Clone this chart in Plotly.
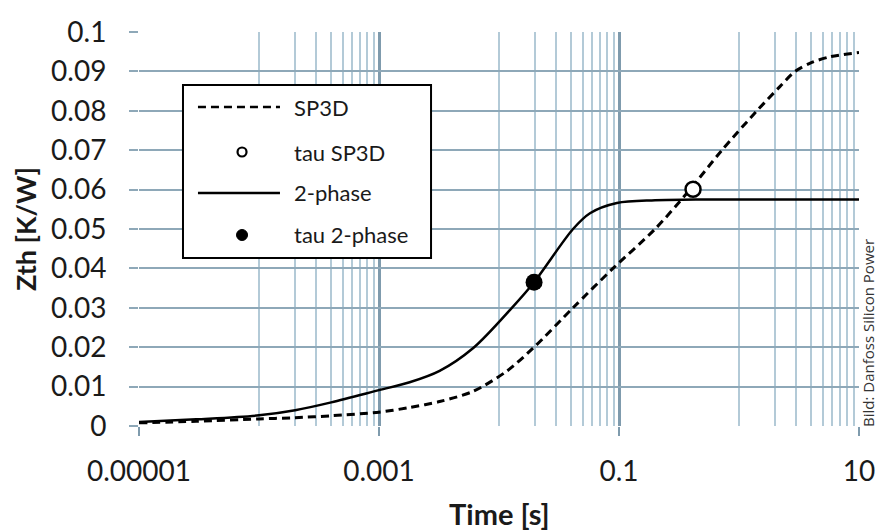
import plotly.graph_objects as go

# ---------------- data ----------------
t_sp3d = [1e-5, 3e-5, 1e-4, 2e-4, 4e-4, 1e-3, 1.8e-3, 3.2e-3, 6.1e-3, 0.0117, 0.0196, 0.0414,
          0.089, 0.2, 0.39, 0.72, 1.41, 2.2, 2.93, 4.0, 5.73, 10]
z_sp3d = [0.0008, 0.0012, 0.0018, 0.0021, 0.0026, 0.0035, 0.0047, 0.0062, 0.0088, 0.0140, 0.0200, 0.0300,
          0.0400, 0.0500, 0.0600, 0.0700, 0.0800, 0.0862, 0.0900, 0.0922, 0.0937, 0.0948]

t_2ph = [1e-5, 3e-5, 1e-4, 2e-4, 4e-4, 1e-3, 1.8e-3, 3.2e-3, 6.1e-3, 0.0128, 0.0196,
         0.0414, 0.0573, 0.096, 0.2, 0.5, 10]
z_2ph = [0.0010, 0.0017, 0.0027, 0.0040, 0.0060, 0.0091, 0.0111, 0.0140, 0.0198, 0.0300, 0.0365,
         0.0500, 0.0540, 0.0566, 0.0573, 0.0575, 0.0575]

tau_sp3d_t = [0.414]
tau_sp3d_z = [0.0601]
tau_2ph_t = [0.0196]
tau_2ph_z = [0.0365]

x_tickvals = [1e-5, 1e-3, 0.1, 10]
x_ticktext = ["0.00001", "0.001", "0.1", "10"]
y_tickvals = [0, 0.01, 0.02, 0.03, 0.04, 0.05, 0.06, 0.07, 0.08, 0.09, 0.1]
y_ticktext = ["0", "0.01", "0.02", "0.03", "0.04", "0.05", "0.06", "0.07", "0.08", "0.09", "0.1"]

legend_names = ["SP3D", "tau SP3D", "2-phase", "tau 2-phase"]

# minor vertical gridlines (Excel log base-100 style)
minor_vals = []
for e in [-4, -2, 0]:
    for k in range(1, 10):
        minor_vals.append(k * 10 ** e)

FONT = "Lato, Open Sans, sans-serif"
GRID_MAJ = "#7f9bad"
GRID_MIN = "#b3cad7"
GRID_H = "#8ea8b8"

fig = go.Figure()
fig.add_trace(go.Scatter(x=t_sp3d, y=z_sp3d, mode="lines", name=legend_names[0],
                         line=dict(color="black", width=3, dash="8px,5px", shape="spline", smoothing=0.8),
                         showlegend=False))
fig.add_trace(go.Scatter(x=t_2ph, y=z_2ph, mode="lines", name=legend_names[2],
                         line=dict(color="black", width=2.5, shape="spline", smoothing=0.9),
                         showlegend=False))
fig.add_trace(go.Scatter(x=tau_sp3d_t, y=tau_sp3d_z, mode="markers", name=legend_names[1],
                         marker=dict(symbol="circle", size=15, color="white",
                                     line=dict(color="black", width=2.5)),
                         showlegend=False))
fig.add_trace(go.Scatter(x=tau_2ph_t, y=tau_2ph_z, mode="markers", name=legend_names[3],
                         marker=dict(symbol="circle", size=17, color="black"),
                         showlegend=False))

# ---------------- custom legend ----------------
lx0, lx1 = 0.0611, 0.4056
ly0, ly1 = 0.4264, 0.8655
fig.add_shape(type="rect", xref="paper", yref="paper", x0=lx0, x1=lx1, y0=ly0, y1=ly1,
              line=dict(color="black", width=2), fillcolor="white", layer="above")
rows = [0.8096, 0.6954, 0.5914, 0.4848]
sx0, sx1, sxm = 0.0819, 0.1958, 0.1431
fig.add_shape(type="line", xref="paper", yref="paper", x0=sx0, x1=sx1, y0=rows[0], y1=rows[0],
              line=dict(color="black", width=2.5, dash="8px,5px"), layer="above")
fig.add_shape(type="line", xref="paper", yref="paper", x0=sx0, x1=sx1, y0=rows[2], y1=rows[2],
              line=dict(color="black", width=2.5), layer="above")
fig.add_shape(type="circle", xref="paper", yref="paper", xsizemode="pixel", ysizemode="pixel",
              xanchor=sxm, yanchor=rows[1], x0=-4.5, x1=4.5, y0=-4.5, y1=4.5,
              line=dict(color="black", width=2.2), fillcolor="white", layer="above")
fig.add_shape(type="circle", xref="paper", yref="paper", xsizemode="pixel", ysizemode="pixel",
              xanchor=sxm, yanchor=rows[3], x0=-5.5, x1=5.5, y0=-5.5, y1=5.5,
              line=dict(color="black", width=1), fillcolor="black", layer="above")
for name, ry in zip(legend_names, rows):
    fig.add_annotation(xref="paper", yref="paper", x=0.2125, y=ry, text=name, showarrow=False,
                       xanchor="left", yanchor="middle",
                       font=dict(family=FONT, size=22, color="#1a1a1a"))

# axis titles
fig.add_annotation(xref="paper", yref="paper", x=(25 - 139) / 720, y=0.5, text="<b>Zth [K/W]</b>",
                   textangle=-90, showarrow=False, xanchor="center", yanchor="middle",
                   font=dict(family=FONT, size=27, color="#1a1a1a"))
fig.add_annotation(xref="paper", yref="paper", x=0.5, y=(426 - 513) / 394, text="<b>Time [s]</b>",
                   showarrow=False, xanchor="center", yanchor="middle",
                   font=dict(family=FONT, size=29, color="#1a1a1a"))
# credit
fig.add_annotation(xref="paper", yref="paper", x=(868 - 139) / 720, y=(426 - 333) / 394,
                   text="Bild: Danfoss Silicon Power", textangle=-90, showarrow=False,
                   xanchor="center", yanchor="middle",
                   font=dict(family="Open Sans, sans-serif", size=15, color="#333333"))

fig.update_layout(
    width=877, height=530,
    margin=dict(l=139, r=18, t=32, b=104, autoexpand=False),
    paper_bgcolor="white", plot_bgcolor="white",
    showlegend=False,
    font=dict(family=FONT, color="#1a1a1a"),
    xaxis=dict(type="log", range=[-5, 1], tickmode="array", tickvals=x_tickvals, ticktext=x_ticktext,
               showgrid=True, gridcolor=GRID_MAJ, gridwidth=2.5,
               ticks="outside", ticklen=9, tickwidth=2, tickcolor=GRID_MAJ,
               tickfont=dict(family=FONT, size=28, color="#1a1a1a"),
               ticklabelstandoff=11, automargin=False,
               minor=dict(tickmode="array", tickvals=minor_vals, showgrid=True,
                          gridcolor=GRID_MIN, gridwidth=2, ticks=""),
               showline=False, zeroline=False),
    yaxis=dict(range=[0, 0.1], tickmode="array", tickvals=y_tickvals, ticktext=y_ticktext,
               showgrid=True, gridcolor=GRID_H, gridwidth=2,
               ticks="outside", ticklen=9, tickwidth=2, tickcolor=GRID_H,
               tickfont=dict(family=FONT, size=28, color="#1a1a1a"),
               ticklabelstandoff=17, automargin=False,
               showline=False, zeroline=False),
)

fig.write_html("out.html", config={"displayModeBar": False},
               post_script="document.body.style.margin='0';document.body.style.overflow='hidden';")
